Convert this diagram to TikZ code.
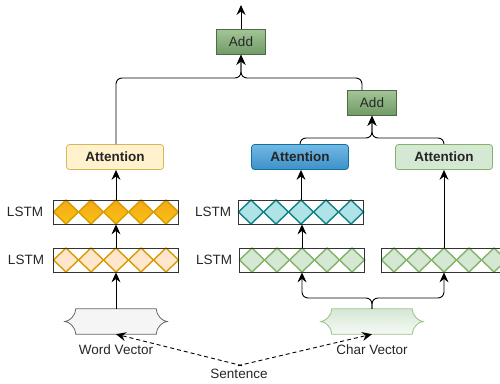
\documentclass[tikz,border=0pt]{standalone}
\usepackage{fontspec}
\setmainfont{Liberation Sans}
\usepackage{tikz}
\usetikzlibrary{arrows.meta,calc}

\definecolor{orfill}{HTML}{F5A81A}
\definecolor{orline}{HTML}{D79B00}
\definecolor{peach}{HTML}{FFE6CC}
\definecolor{tealfill}{HTML}{B0E3E6}
\definecolor{tealline}{HTML}{0E8088}
\definecolor{gfill}{HTML}{D5E8D4}
\definecolor{gline}{HTML}{82B366}
\definecolor{yfill}{HTML}{FFF2CC}
\definecolor{yline}{HTML}{D6B656}
\definecolor{btop}{HTML}{72B8E4}
\definecolor{bbot}{HTML}{3D91C9}
\definecolor{bline}{HTML}{10739E}
\definecolor{addtop}{HTML}{A3C497}
\definecolor{addbot}{HTML}{6F9A65}
\definecolor{addline}{HTML}{4E6B46}

\newcommand{\labelsize}{\fontsize{13.5}{16}\selectfont}

\tikzset{
  lstm/.style={draw=black!80, line width=0.8pt, minimum width=125pt, minimum height=24pt, inner sep=0pt},
  att/.style={rounded corners=3pt, minimum width=97pt, minimum height=25pt, line width=0.8pt, font=\labelsize\bfseries},
  addbox/.style={draw=addline, top color=addtop, bottom color=addbot, minimum width=49pt, minimum height=25pt, line width=0.6pt},
  arr/.style={-{Stealth[length=10pt,width=9pt,inset=3.5pt]}, line width=0.9pt},
  dash arr/.style={arr, dash pattern=on 4pt off 3pt},
  every node/.style={font=\labelsize, text=black!85},
}

% one row of lstm cells
\newcommand{\lstmrow}[5]{%
  \foreach \k in {0,...,4}
    \draw[line width=1.4pt, draw=#5, #4] (#2+25*\k-62.5, #3) -- ++(12.5,12) -- ++(12.5,-12) -- ++(-12.5,-12) -- cycle;
  \node[lstm] (#1) at (#2,#3) {};
}

% input vector with curly sides
\newcommand{\vecshape}[4]{%
  \node[minimum width=80pt, minimum height=25pt, inner sep=0pt] (#1) at (#2,#3) {};
  \draw[line width=0.8pt, #4] (#1.north west) -- (#1.north east)
    .. controls +(0,7) and +(-4,0) .. ($(#1.east)+(11,0)$)
    .. controls +(-4,0) and +(0,-7) .. (#1.south east) -- (#1.south west)
    .. controls +(0,-7) and +(4,0) .. ($(#1.west)+(-11,0)$)
    .. controls +(4,0) and +(0,7) .. (#1.north west) -- cycle;
}

\begin{document}
\begin{tikzpicture}[x=1pt,y=-1pt]
  \clip (0,0) rectangle (500,383);

  \lstmrow{w1}{116}{260}{fill=peach}{orline}
  \lstmrow{w2}{116}{212}{top color=orfill, bottom color=orfill!70!yellow}{orline}
  \lstmrow{c1}{302}{260}{fill=gfill}{gline}
  \lstmrow{c2}{301}{212}{fill=tealfill}{tealline}
  \lstmrow{r1}{444}{260}{fill=gfill}{gline}

  \node (l1) at (25,212) {LSTM};
  \node (l2) at (26,260) {LSTM};
  \node (l3) at (213,212) {LSTM};
  \node (l4) at (214,260) {LSTM};

  \node[att, draw=yline, fill=yfill] (att1) at (115,157) {Attention};
  \node[att, draw=bline, top color=btop, bottom color=bbot] (att2) at (300,157) {Attention};
  \node[att, draw=gline, fill=gfill] (att3) at (444,157) {Attention};

  \node[addbox] (add1) at (241,42) {Add};
  \node[addbox] (add2) at (372,103) {Add};
  \coordinate (out) at (241,5);

  \vecshape{wvec}{116}{321.5}{draw=black!60, fill=black!4}
  \vecshape{cvec}{372}{321.5}{draw=gline!80, top color=gfill, bottom color=gfill!25}

  \node (wlab) at (116,350) {Word Vector};
  \node (clab) at (372,350) {Char Vector};
  \node (sent) at (239,374) {Sentence};

  % word branch
  \draw[arr] (wvec.north) -- (w1.south);
  \draw[arr] (w1.north) -- (w2.south);
  \draw[arr] (w2.north) -- (att1.south -| w2.north);

  % char branch
  \draw[arr, rounded corners=6pt] (cvec.north) |- (302,298) -- (c1.south);
  \draw[arr, rounded corners=6pt] (cvec.north) |- (444,298) -- (r1.south);
  \draw[arr] (c1.north) -- (c2.south -| c1.north);
  \draw[arr] (c2.north) -- (att2.south -| c2.north);
  \draw[arr] (r1.north) -- (att3.south);

  % merging
  \draw[arr, rounded corners=6pt] (att2.north) |- (372,138) -- (add2.south);
  \draw[arr, rounded corners=6pt] (att3.north) |- (372,138) -- (add2.south);
  \draw[arr, rounded corners=6pt] (att1.north -| w2.north) |- (241,78) -- (add1.south);
  \draw[arr, rounded corners=6pt] ([xshift=-10pt]add2.north) |- (241,78) -- (add1.south);
  \draw[arr] (add1.north) -- (out);

  % sentence
  \draw[dash arr] ([xshift=3pt]sent.north) -- (wvec.south);
  \draw[dash arr] ([xshift=-1pt]sent.north) -- (cvec.south);
\end{tikzpicture}
\end{document}
